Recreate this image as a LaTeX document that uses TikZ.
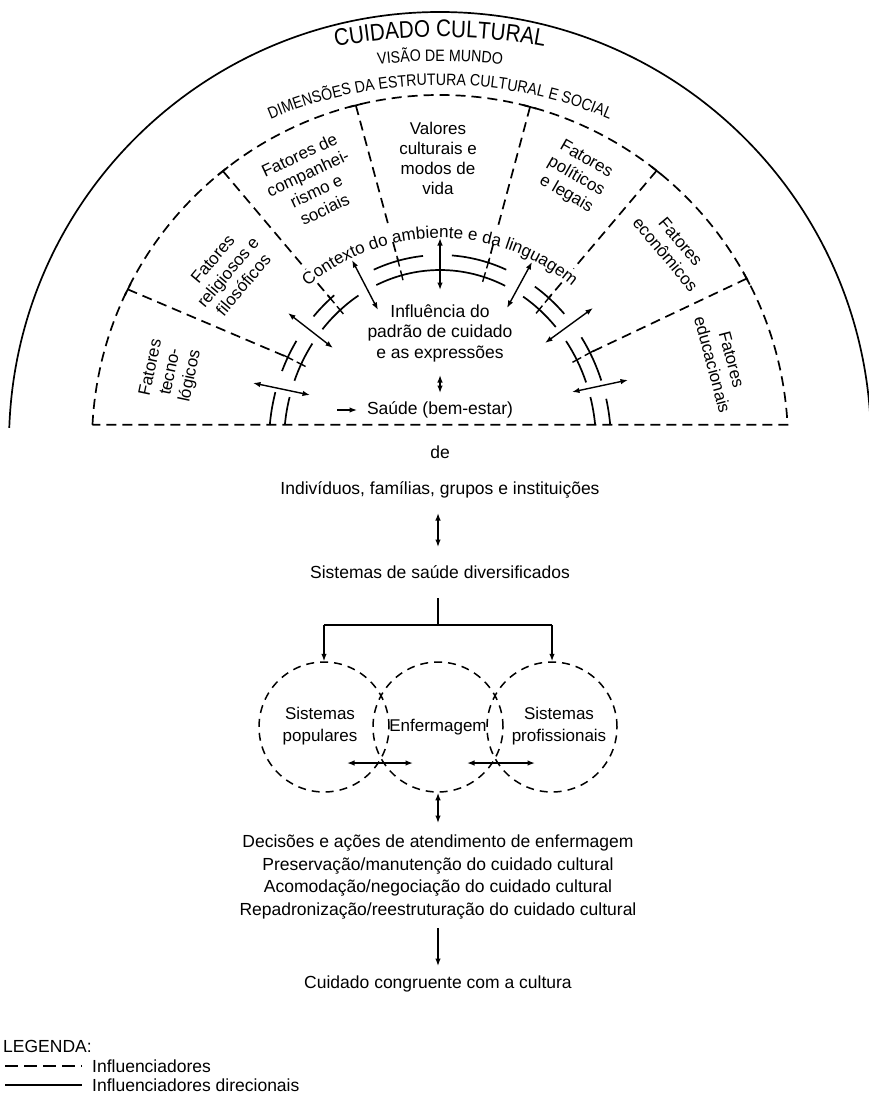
\documentclass[tikz,border=0pt]{standalone}
\usepackage{fontspec}
\setmainfont{Liberation Sans}
\newfontfamily\narrowcaps[FakeStretch=0.86]{Liberation Sans}
\usetikzlibrary{arrows.meta,decorations.text,calc}
\begin{document}
\begin{tikzpicture}[x=1pt,y=1pt,
  >={Latex[length=7.5pt,width=5.5pt]},
  arc line/.style={line width=1.7pt},
  dash line/.style={line width=1.7pt, dash pattern=on 10pt off 6pt},
  circ line/.style={line width=1.5pt, dash pattern=on 8pt off 6pt},
  link/.style={line width=1.4pt},
  both/.style={link, <->},
  fwd/.style={link, ->},
  txt/.style={font=\fontsize{17.5}{20.5}\selectfont, inner sep=0pt, align=center},
  sector/.style={font=\fontsize{17}{20}\selectfont, inner sep=0pt, align=center},
  sunring/.style={circle, draw, circ line, minimum size=130pt, inner sep=0pt},
]
\fill[white] (0,0) rectangle (868,-1097);
\useasboundingbox (0,0) rectangle (868,-1097);

\coordinate (C) at (440,-443);   % centre of the rising sun
\coordinate (T) at (440,-600);   % centre of the two title arcs
\coordinate (D) at (440,-520);   % centre of the dimensions arc

% outer sun and the dashed band of the cultural dimensions
\draw[arc line] (C) ++(178:431) arc[start angle=178,end angle=2,radius=431];
\draw[dash line] (C) ++(177:348) arc[start angle=177,end angle=3,radius=348] -- cycle;

% curved titles
\path[decorate,decoration={text along path,text align=center,
  text={|\narrowcaps\fontsize{24}{26}\selectfont|CUIDADO CULTURAL}}]
  (T) ++(120:563) arc[start angle=120,end angle=60,radius=563];
\path[decorate,decoration={text along path,text align=center,
  text={|\narrowcaps\fontsize{16.5}{18}\selectfont|VISÃO DE MUNDO}}]
  (T) ++(120:539) arc[start angle=120,end angle=60,radius=539];
\path[decorate,decoration={text along path,text align=center,
  text={|\narrowcaps\fontsize{16.5}{18}\selectfont|DIMENSÕES DA ESTRUTURA CULTURAL E SOCIAL}}]
  (D) ++(125:435) arc[start angle=125,end angle=55,radius=435];
\path[decorate,decoration={text along path,text align=center,
  text={|\fontsize{17}{19}\selectfont|Contexto do ambiente e da linguagem}}]
  (C) ++(150:205) arc[start angle=150,end angle=30,radius=205];

% radial influencer lines with their end marks
\foreach \ao/\ai [count=\k] in {153.8/152.9,128.6/129.8,104/104.2,75/73.6,51.5/50.5,28.2/28.7}{
  \coordinate (po\k) at ($(C)+(\ao:348)$);
  \coordinate (pi\k) at ($(C)+(\ai:171 and 188)$);
  \draw[arc line] ($(C)+({\ao+1.1}:348)$) -- ($(C)+({\ao-1.1}:348)$);
  \draw[link] ($(C)+(\ai:176 and 193)$) -- ($(C)+(\ai:165 and 182)$);
  \draw[link] ($(C)+(\ai:161 and 178)$) -- ($(C)+(\ai:151 and 168)$);
}
\draw[dash line] (po1) -- (pi1);
\draw[dash line] (po6) -- (pi6);
\foreach \k in {2,...,5}{
  \draw[dash line] (po\k) -- ($(po\k)!0.77!(pi\k)$);
  \draw[dash line] ($(po\k)!0.88!(pi\k)$) -- (pi\k);
}

% double ring of directional influencers
\foreach \a/\b in {174.5/164.3,157.5/147.1,137.7/128.2,112.8/95.7,86/67.2,56.3/43.4,34.2/19.4,13.6/5.5}
  \draw[arc line] (C) ++(\a:171 and 188) arc[start angle=\a,end angle=\b,x radius=171,y radius=188];
\foreach \a/\b in {174/164.6,158.9/144.9,138.9/121.5,114.1/65.3,57.8/42.1,36.1/20.5,15.4/6}
  \draw[arc line] (C) ++(\a:156 and 173) arc[start angle=\a,end angle=\b,x radius=156,y radius=173];

% arrows through the ring
\coordinate (a1) at (253,-383); \coordinate (a2) at (310,-395);
\coordinate (b1) at (288,-313); \coordinate (b2) at (333,-348);
\coordinate (c1) at (352,-260); \coordinate (c2) at (378,-310);
\coordinate (d1) at (440,-238); \coordinate (d2) at (440,-290);
\coordinate (e1) at (532,-262); \coordinate (e2) at (507,-308);
\coordinate (f1) at (593,-308); \coordinate (f2) at (545,-343);
\coordinate (g1) at (572,-392); \coordinate (g2) at (628,-380);
\foreach \n in {a,...,g} \draw[both] (\n1) -- (\n2);

% sector labels
\node[sector, rotate=78]  (tec) at (171,-372) {Fatores\\tecno-\\lógicos};
\node[sector, rotate=50]  (rel) at (228,-272) {Fatores\\religiosos e\\filosóficos};
\node[sector, rotate=25]  (com) at (312,-182) {Fatores de\\companhei-\\rismo e\\sociais};
\node[sector]             (val) at (438,-158) {Valores\\culturais e\\modos de\\vida};
\node[sector, rotate=-30] (pol) at (576,-177) {Fatores\\políticos\\e legais};
\node[sector, rotate=-50] (eco) at (673,-248) {Fatores\\econômicos};
\node[sector, rotate=-75] (edu) at (722,-362) {Fatores\\educacionais};

% core of the sun
\node[txt] (inf) at (440,-333) {Influência do\\padrão de cuidado\\e as expressões};
\coordinate (h1) at (440,-375); \coordinate (h2) at (440,-393);
\draw[both] (h1) -- (h2);
\node[txt] (sau) at (440,-410) {Saúde (bem-estar)};
\coordinate (s1) at (337,-410); \coordinate (s2) at (357,-410);
\draw[fwd] (s1) -- (s2);

% lower chain
\node[txt] (de)  at (440,-452) {de};
\node[txt] (ind) at (440,-490) {Indivíduos, famílias, grupos e instituições};
\coordinate (i1) at (438,-513); \coordinate (i2) at (438,-547);
\draw[both] (i1) -- (i2);
\node[txt] (sis) at (440,-572) {Sistemas de saúde diversificados};

\node[sunring] (cp) at (324,-727) {};
\node[sunring] (ce) at (438,-727) {};
\node[sunring] (cf) at (552,-727) {};
\node[txt, font=\fontsize{17}{22}\selectfont] (tp) at (320,-726) {Sistemas\\populares};
\node[txt, font=\fontsize{17}{22}\selectfont] (te) at (438,-727) {Enfermagem};
\node[txt, font=\fontsize{17}{22}\selectfont] (tf) at (559,-726) {Sistemas\\profissionais};

\coordinate (bt) at (438,-598); \coordinate (bm) at (438,-625);
\coordinate (bl) at (324,-625); \coordinate (br) at (552,-625);
\draw[link] (bt) -- (bm);
\draw[link] (bl) -- (br);
\draw[fwd] (bl) -- (cp.north);
\draw[fwd] (br) -- (cf.north);

\coordinate (l1) at (347,-763); \coordinate (l2) at (413,-763);
\coordinate (r1) at (467,-763); \coordinate (r2) at (535,-763);
\draw[both] (l1) -- (l2);
\draw[both] (r1) -- (r2);

\coordinate (v2) at (438,-823);
\draw[both] (ce.south) -- (v2);
\node[txt, font=\fontsize{17.5}{22.7}\selectfont] (dec) at (438,-877)
  {Decisões e ações de atendimento de enfermagem\\
   Preservação/manutenção do cuidado cultural\\
   Acomodação/negociação do cuidado cultural\\
   Repadronização/reestruturação do cuidado cultural};
\coordinate (k1) at (438,-928); \coordinate (k2) at (438,-966);
\draw[fwd] (k1) -- (k2);
\node[txt] (cong) at (438,-984) {Cuidado congruente com a cultura};

% legend
\node[txt, anchor=west] (leg) at (3,-1046) {LEGENDA:};
\coordinate (ld1) at (5,-1066); \coordinate (ld2) at (82,-1066);
\coordinate (ls1) at (5,-1085); \coordinate (ls2) at (82,-1085);
\draw[line width=1.7pt, dash pattern=on 13pt off 6pt] (ld1) -- (ld2);
\draw[link] (ls1) -- (ls2);
\node[txt, anchor=west] (lg1) at (92,-1066) {Influenciadores};
\node[txt, anchor=west] (lg2) at (92,-1085) {Influenciadores direcionais};
\end{tikzpicture}
\end{document}
